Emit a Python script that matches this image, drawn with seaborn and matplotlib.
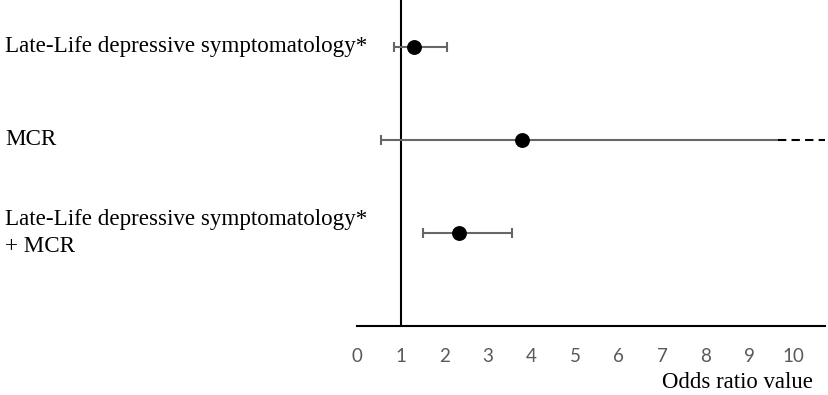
import matplotlib
matplotlib.use("Agg")
import matplotlib.pyplot as plt
import matplotlib.transforms as mtransforms
import seaborn as sns
import pandas as pd

# ---- data ----
labels = ["Late-Life depressive symptomatology*",
          "MCR",
          "Late-Life depressive symptomatology*\n+ MCR"]
odds_ratio = [1.31, 3.78, 2.35]
ci_lower = [0.85, 0.54, 1.52]
ci_upper = [2.06, 9.65, 3.55]
ci_upper_truncated = [False, True, False]
x_ticks = [0, 1, 2, 3, 4, 5, 6, 7, 8, 9, 10]
x_tick_labels = ["0", "1", "2", "3", "4", "5", "6", "7", "8", "9", "10"]
x_max = 10.73
reference_value = 1
x_label = "Odds ratio value"

sns.set_theme(style="white")
plt.rcParams['font.family'] = ['Liberation Serif', 'DejaVu Serif']

W, H = 829, 395
fig = plt.figure(figsize=(W / 100, H / 100), dpi=100)
ax = fig.add_axes([357 / W, 69 / H, 468 / W, 326 / H])

rows = list(range(len(labels)))
df = pd.DataFrame({"row": rows, "or": odds_ratio, "lo": ci_lower, "hi": ci_upper,
                   "trunc": ci_upper_truncated})

err_color = "#666666"
lw = 1.5
# error bar lines
ax.hlines(df["row"], df["lo"], df["hi"], color=err_color, lw=lw, zorder=2)
# caps
ax.plot(df["lo"], df["row"], linestyle="none", marker="|", markersize=7.5,
        markeredgewidth=lw, color=err_color, zorder=2)
nt = df[~df["trunc"]]
ax.plot(nt["hi"], nt["row"], linestyle="none", marker="|", markersize=7.5,
        markeredgewidth=lw, color=err_color, zorder=2)
# dashed extension for truncated CIs
tr = df[df["trunc"]]
ax.hlines(tr["row"], tr["hi"], x_max, color="black", lw=lw,
          linestyles=[(0, (4, 2.5))], zorder=2)

# points
sns.scatterplot(data=df, x="or", y="row", color="black", s=115, edgecolor="black",
                linewidth=0, ax=ax, zorder=3, legend=False)

ax.axvline(reference_value, color="black", lw=1.5, zorder=1)

ax.set_xlim(0, x_max)
ax.set_ylim(3.0, -0.505)
ax.set_xticks(x_ticks)
ax.set_xticklabels(x_tick_labels, family="Lato", color="#595959", fontsize=13.5)
ax.tick_params(axis="x", length=0, pad=16)
ax.set_yticks([])
ax.set_xlabel("")
ax.set_ylabel("")
for side in ["left", "top", "right"]:
    ax.spines[side].set_visible(False)
ax.spines["bottom"].set_color("black")
ax.spines["bottom"].set_linewidth(1.5)

trans = mtransforms.blended_transform_factory(fig.transFigure, ax.transData)
for r, lab in zip(rows, labels):
    ax.text(5 / W, r, lab, transform=trans, ha="left", va="center",
            fontsize=16.6, color="black", linespacing=1.35)

fig.text(813 / W, (H - 383) / H, x_label, ha="right", va="center",
         fontsize=16.4, color="black")

fig.savefig("out.png", dpi=100)
